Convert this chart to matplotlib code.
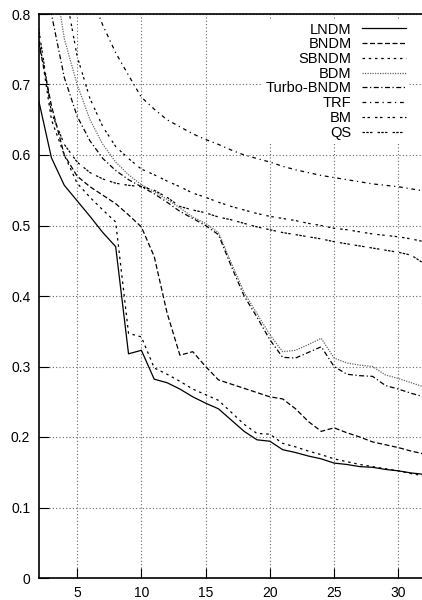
import matplotlib
matplotlib.use("Agg")
import matplotlib.pyplot as plt
import numpy as np

plt.rcParams['font.family'] = ['Liberation Sans', 'DejaVu Sans']

# pattern lengths
m = list(range(2, 33))

lndm = [0.678, 0.596, 0.557, 0.535, 0.513, 0.490, 0.470, 0.318, 0.323, 0.282,
        0.277, 0.268, 0.257, 0.248, 0.240, 0.224, 0.208, 0.196, 0.194, 0.182,
        0.178, 0.173, 0.169, 0.163, 0.161, 0.158, 0.157, 0.154, 0.152, 0.149, 0.147]
bndm = [0.760, 0.670, 0.600, 0.570, 0.555, 0.543, 0.531, 0.515, 0.498, 0.456,
        0.376, 0.316, 0.321, 0.300, 0.281, 0.275, 0.269, 0.263, 0.257, 0.254,
        0.240, 0.222, 0.208, 0.213, 0.206, 0.200, 0.193, 0.189, 0.185, 0.180, 0.176]
sbndm = [0.770, 0.650, 0.600, 0.560, 0.540, 0.522, 0.505, 0.347, 0.342, 0.298,
         0.289, 0.279, 0.268, 0.260, 0.252, 0.235, 0.218, 0.205, 0.204, 0.191,
         0.186, 0.180, 0.175, 0.169, 0.165, 0.161, 0.158, 0.155, 0.152, 0.148, 0.145]
bdm = [1.050, 0.880, 0.765, 0.700, 0.650, 0.615, 0.590, 0.572, 0.558, 0.548,
       0.537, 0.525, 0.512, 0.503, 0.490, 0.447, 0.405, 0.375, 0.345, 0.321,
       0.323, 0.331, 0.340, 0.312, 0.305, 0.302, 0.300, 0.288, 0.283, 0.277, 0.271]
turbo = [0.980, 0.800, 0.710, 0.655, 0.620, 0.595, 0.578, 0.565, 0.555, 0.545,
         0.533, 0.520, 0.510, 0.500, 0.487, 0.442, 0.400, 0.370, 0.338, 0.313,
         0.312, 0.320, 0.328, 0.300, 0.289, 0.287, 0.286, 0.273, 0.268, 0.262, 0.257]
trf = [1.200, 1.050, 0.950, 0.880, 0.830, 0.784, 0.745, 0.713, 0.682, 0.665,
       0.650, 0.640, 0.630, 0.622, 0.615, 0.607, 0.600, 0.595, 0.590, 0.584,
       0.579, 0.575, 0.571, 0.568, 0.565, 0.562, 0.559, 0.557, 0.555, 0.552, 0.549]
bm = [1.200, 1.000, 0.840, 0.740, 0.680, 0.640, 0.612, 0.595, 0.580, 0.572,
      0.563, 0.555, 0.546, 0.540, 0.533, 0.527, 0.522, 0.517, 0.513, 0.510,
      0.507, 0.503, 0.500, 0.496, 0.494, 0.491, 0.488, 0.486, 0.484, 0.481, 0.477]
qs = [0.780, 0.660, 0.615, 0.590, 0.575, 0.566, 0.560, 0.557, 0.555, 0.550,
      0.540, 0.527, 0.522, 0.518, 0.512, 0.508, 0.503, 0.498, 0.494, 0.490,
      0.487, 0.484, 0.481, 0.477, 0.474, 0.471, 0.468, 0.465, 0.462, 0.458, 0.446]

names = ['LNDM', 'BNDM', 'SBNDM', 'BDM', 'Turbo-BNDM', 'TRF', 'BM', 'QS']
series = [lndm, bndm, sbndm, bdm, turbo, trf, bm, qs]
styles = ['-', (0, (4, 2)), (0, (2, 3)), (0, (1, 1)), (0, (4, 2, 1, 2)),
          (0, (3, 3, 1, 3)), (0, (2, 2, 2, 4)), (0, (2, 1, 2, 1, 2, 4))]
colors = ['black', 'black', 'black', '#666666', 'black', 'black', 'black', 'black']

fig = plt.figure(figsize=(4.22, 6.0), dpi=100)
ax = fig.add_axes([38.6 / 422, 22 / 600, (424 - 38.6) / 422, 564 / 600])

for y, name, ls, c in zip(series, names, styles, colors):
    ax.plot(m, y, linestyle=ls, color=c, linewidth=0.9, label=name)

ax.set_xlim(2, 32)
ax.set_ylim(0, 0.8)
ax.set_xticks([5, 10, 15, 20, 25, 30])
ax.set_yticks(np.arange(0, 0.81, 0.1))
ax.set_yticklabels(['0', '0.1', '0.2', '0.3', '0.4', '0.5', '0.6', '0.7', '0.8'])
ax.grid(True, linestyle=(0, (1, 2)), color='#666666', linewidth=0.8)
ax.tick_params(direction='in', length=7, labelsize=10, pad=6)
ax.spines['right'].set_visible(False)
for s in ['left', 'bottom', 'top']:
    ax.spines[s].set_linewidth(1.2)

leg = ax.legend(loc='upper right', bbox_to_anchor=(0.96, 0.99), markerfirst=False,
                fontsize=10.5, handlelength=3.0, handletextpad=0.7, labelspacing=0.05,
                frameon=True, fancybox=False, borderpad=0.2, borderaxespad=0)
leg.get_frame().set_edgecolor('none')
leg.get_frame().set_facecolor('white')
leg.get_frame().set_alpha(1)
for t in leg.get_texts():
    t.set_ha('right')

fig.savefig('out.png', dpi=100)
